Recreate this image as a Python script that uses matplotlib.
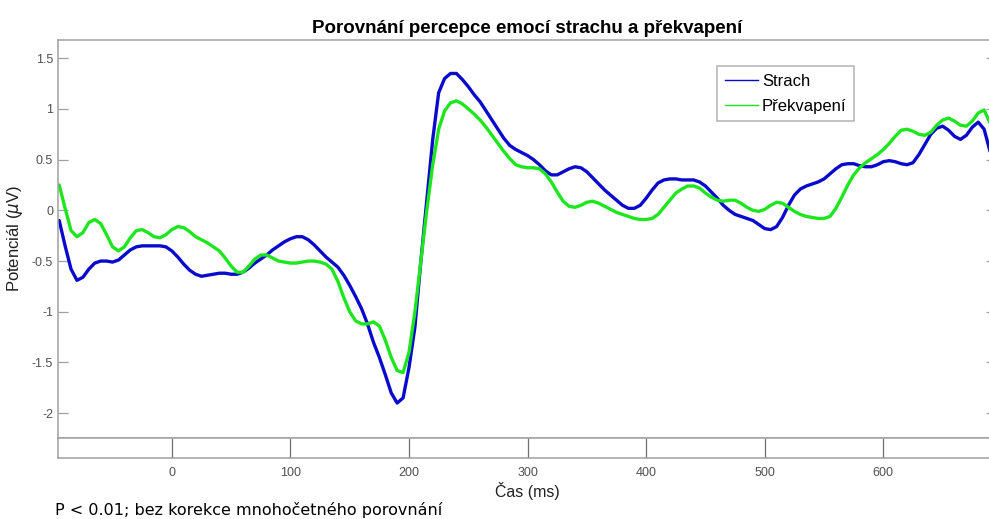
import numpy as np
import matplotlib
matplotlib.use("Agg")
import matplotlib.pyplot as plt
from matplotlib.lines import Line2D

plt.rcParams['font.family'] = ['Liberation Sans', 'DejaVu Sans']

# Time axis (ms), 5 ms resolution
time_ms = np.arange(-95, 691, 5)

# Grand-average ERP (µV) for fear
strach = [
    -0.10, -0.35, -0.58, -0.69, -0.66, -0.58, -0.52, -0.50, -0.50, -0.51,
    -0.49, -0.44, -0.39, -0.36, -0.35, -0.35, -0.35, -0.35, -0.36, -0.40,
    -0.46, -0.53, -0.59, -0.63, -0.65, -0.64, -0.63, -0.62, -0.62, -0.63,
    -0.63, -0.61, -0.57, -0.52, -0.48, -0.44, -0.39, -0.35, -0.31, -0.28,
    -0.26, -0.26, -0.29, -0.34, -0.40, -0.46, -0.51, -0.56, -0.64, -0.74,
    -0.85, -0.97, -1.12, -1.30, -1.45, -1.62, -1.80, -1.90, -1.85, -1.55,
    -1.15, -0.50, 0.10, 0.70, 1.16, 1.30, 1.35, 1.35, 1.29, 1.22,
    1.14, 1.07, 0.98, 0.89, 0.80, 0.71, 0.64, 0.60, 0.57, 0.54,
    0.50, 0.45, 0.39, 0.35, 0.35, 0.38, 0.41, 0.43, 0.42, 0.38,
    0.32, 0.26, 0.20, 0.15, 0.10, 0.05, 0.02, 0.02, 0.05, 0.12,
    0.20, 0.27, 0.30, 0.31, 0.31, 0.30, 0.30, 0.30, 0.28, 0.24,
    0.18, 0.12, 0.05, 0.00, -0.04, -0.06, -0.08, -0.10, -0.14, -0.18,
    -0.19, -0.16, -0.07, 0.05, 0.15, 0.21, 0.24, 0.26, 0.28, 0.31,
    0.36, 0.41, 0.45, 0.46, 0.46, 0.44, 0.43, 0.43, 0.45, 0.48,
    0.49, 0.48, 0.46, 0.45, 0.47, 0.55, 0.65, 0.75, 0.81, 0.83,
    0.79, 0.73, 0.70, 0.74, 0.82, 0.87, 0.80, 0.58,
]

# Grand-average ERP (µV) for surprise
prekvapeni = [
    0.25, 0.02, -0.20, -0.26, -0.22, -0.12, -0.09, -0.13, -0.24, -0.36,
    -0.40, -0.36, -0.27, -0.20, -0.19, -0.22, -0.26, -0.27, -0.24, -0.19,
    -0.16, -0.17, -0.21, -0.26, -0.29, -0.32, -0.36, -0.40, -0.47, -0.55,
    -0.61, -0.61, -0.55, -0.48, -0.44, -0.44, -0.47, -0.50, -0.51, -0.52,
    -0.52, -0.51, -0.50, -0.50, -0.51, -0.53, -0.58, -0.70, -0.86, -1.00,
    -1.09, -1.12, -1.12, -1.10, -1.14, -1.28, -1.45, -1.58, -1.60, -1.40,
    -1.00, -0.50, 0.00, 0.45, 0.80, 0.98, 1.06, 1.08, 1.05, 1.00,
    0.95, 0.89, 0.82, 0.74, 0.66, 0.58, 0.51, 0.45, 0.43, 0.42,
    0.42, 0.41, 0.36, 0.28, 0.18, 0.09, 0.04, 0.03, 0.05, 0.08,
    0.09, 0.07, 0.04, 0.01, -0.02, -0.04, -0.06, -0.08, -0.09, -0.09,
    -0.08, -0.04, 0.03, 0.10, 0.17, 0.21, 0.24, 0.24, 0.22, 0.17,
    0.13, 0.10, 0.09, 0.10, 0.10, 0.07, 0.03, 0.00, -0.01, 0.01,
    0.05, 0.08, 0.07, 0.03, -0.01, -0.04, -0.06, -0.07, -0.08, -0.08,
    -0.06, 0.02, 0.13, 0.25, 0.35, 0.42, 0.47, 0.51, 0.55, 0.60,
    0.66, 0.73, 0.79, 0.80, 0.78, 0.75, 0.74, 0.77, 0.84, 0.89,
    0.91, 0.88, 0.84, 0.83, 0.88, 0.96, 0.99, 0.86,
]

series_labels = ["Strach", "Překvapení"]
y_ticks = [-2, -1.5, -1, -0.5, 0, 0.5, 1, 1.5]
y_ticklabels = ["-2", "-1.5", "-1", "-0.5", "0", "0.5", "1", "1.5"]
x_ticks = [0, 100, 200, 300, 400, 500, 600]

BLUE = "#0a0acc"
GREEN = "#1ee61e"
SPINE = "#a0a0a0"
TICKTXT = "#505050"

W, H = 989, 519
fig = plt.figure(figsize=(W / 100, H / 100), dpi=100)

xlim = (-96, 695)
left_px, right_px = 58, 996
top_px, bottom_px = 40, 438
strip_bottom_px = 458

ax = fig.add_axes([left_px / W, 1 - bottom_px / H,
                   (right_px - left_px) / W, (bottom_px - top_px) / H])
ax.plot(time_ms, strach, color=BLUE, lw=2.4, solid_capstyle='round')
ax.plot(time_ms, prekvapeni, color=GREEN, lw=2.4, solid_capstyle='round')
ax.set_xlim(*xlim)
ax.set_ylim(-2.245, 1.68)
ax.set_yticks(y_ticks)
ax.set_yticklabels(y_ticklabels)
ax.set_xticks([])
ax.tick_params(axis='y', direction='in', length=7.5, width=0.9, color=SPINE,
               labelcolor=TICKTXT, labelsize=9, pad=3.5, right=True)
for s in ax.spines.values():
    s.set_color(SPINE)
    s.set_linewidth(1.1)
ax.set_ylabel(r"Potenciál ($\mu$V)", fontsize=12, color="#202020", labelpad=5)
ax.set_title("Porovnání percepce emocí strachu a překvapení",
             fontsize=13.5, fontweight='bold', pad=5)

handles = [Line2D([], [], color=BLUE, lw=1.0), Line2D([], [], color=GREEN, lw=1.0)]
leg = ax.legend(handles, series_labels, loc='upper left',
                bbox_to_anchor=(717 / W, 1 - 66 / H), bbox_transform=fig.transFigure,
                fontsize=12, frameon=True, fancybox=False, handlelength=2.0,
                handletextpad=0.25, labelspacing=0.6, borderpad=0.45,
                borderaxespad=0)
leg.get_frame().set_edgecolor(SPINE)
leg.get_frame().set_linewidth(1.1)

# Time axis strip below the main panel
axs = fig.add_axes([left_px / W, 1 - strip_bottom_px / H,
                    (right_px - left_px) / W, (strip_bottom_px - bottom_px) / H])
axs.set_xlim(*xlim)
axs.set_ylim(0, 1)
axs.set_yticks([])
axs.set_xticks(x_ticks)
axs.tick_params(axis='x', direction='in', length=14.5, width=0.9, color="#707070",
                labelcolor=TICKTXT, labelsize=9, pad=6.5)
for s in axs.spines.values():
    s.set_color(SPINE)
    s.set_linewidth(1.1)
axs.set_xlabel("Čas (ms)", fontsize=11.5, color="#202020", labelpad=2)

fig.text(55 / W, 1 - 510 / H, "P < 0.01; bez korekce mnohočetného porovnání",
         family='DejaVu Sans', fontsize=11.5, color="black", va='center', ha='left')

fig.savefig("out.png", dpi=100)
